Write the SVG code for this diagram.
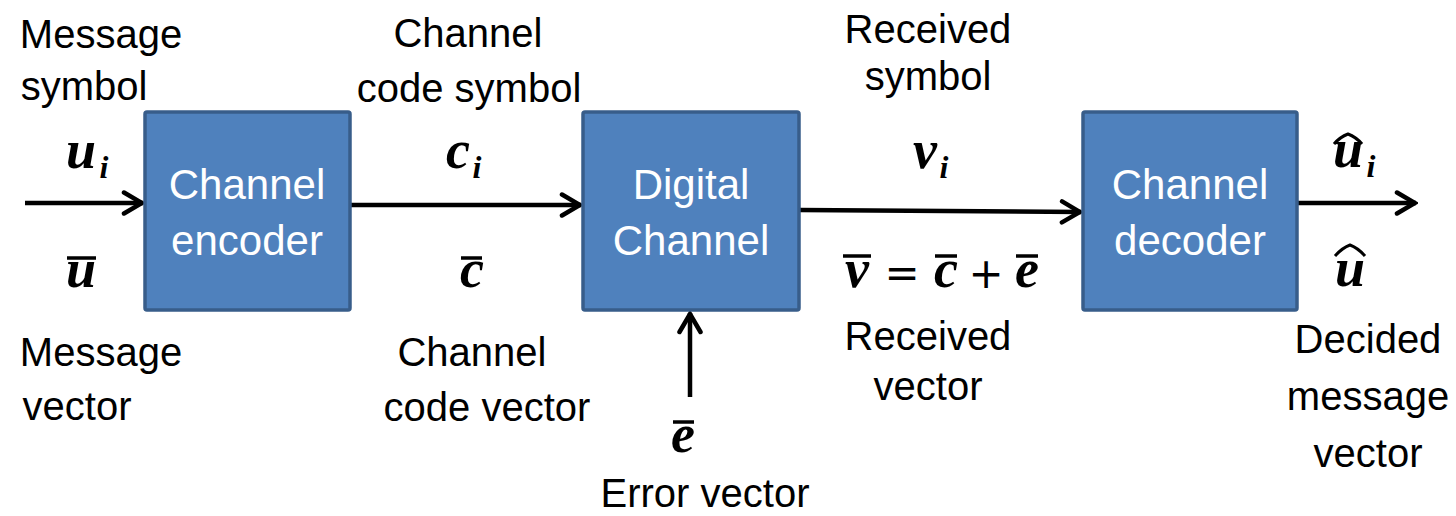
<svg xmlns="http://www.w3.org/2000/svg" width="1456" height="516" viewBox="0 0 1456 516">
<style>
.box{fill:#4F81BD;stroke:#385D8A;stroke-width:3.5}
.bt{font-family:"Liberation Sans",Arial,sans-serif;font-size:42px;fill:#fff;text-anchor:middle}
.lb{font-family:"Liberation Sans",Arial,sans-serif;font-size:40px;fill:#000;text-anchor:middle}
.m{font-family:"Liberation Serif","Times New Roman",serif;font-size:54px;font-weight:bold;font-style:italic;fill:#000;text-anchor:middle}
.s{font-family:"Liberation Serif","Times New Roman",serif;font-size:32px;font-weight:bold;font-style:italic;fill:#000;text-anchor:middle}
.op{font-family:"DejaVu Sans",sans-serif;font-size:42px;fill:#000;text-anchor:middle}
.bar{stroke:#000;stroke-width:3.5;fill:none}
.hat{stroke:#000;stroke-width:3;fill:none;stroke-linejoin:round}
.cn{stroke:#000;stroke-width:4.5;fill:none;marker-end:url(#ah)}
</style>
<defs>
<marker id="ah" markerUnits="userSpaceOnUse" viewBox="0 0 24 26" refX="22" refY="13" markerWidth="24" markerHeight="26" orient="auto">
<path d="M3,2.5 L21,13 L3,23.5" fill="none" stroke="#000" stroke-width="4.5" stroke-linecap="round" stroke-linejoin="miter"/>
</marker>
</defs>
<rect width="1456" height="516" fill="#fff"/>
<g id="connectors">
<line class="cn" x1="25" y1="203" x2="143" y2="203"/>
<line class="cn" x1="351" y1="205" x2="581" y2="205"/>
<line class="cn" x1="800" y1="210" x2="1081" y2="212"/>
<line class="cn" x1="1298" y1="203" x2="1416" y2="203"/>
<line class="cn" x1="690" y1="397" x2="690" y2="313"/>
</g>
<g id="encoder">
<rect class="box" x="145" y="112" width="205" height="198" rx="2"/>
<text class="bt" x="247" y="199">Channel</text>
<text class="bt" x="247" y="255">encoder</text>
</g>
<g id="channel">
<rect class="box" x="583" y="112" width="216" height="198" rx="2"/>
<text class="bt" x="691" y="199">Digital</text>
<text class="bt" x="691" y="255">Channel</text>
</g>
<g id="decoder">
<rect class="box" x="1083" y="112" width="214" height="198" rx="2"/>
<text class="bt" x="1190" y="199">Channel</text>
<text class="bt" x="1190" y="255">decoder</text>
</g>
<g id="labels">
<text class="lb" x="101" y="48">Message</text>
<text class="lb" x="84" y="100">symbol</text>
<text class="lb" x="468" y="47">Channel</text>
<text class="lb" x="469" y="102">code symbol</text>
<text class="lb" x="928" y="43">Received</text>
<text class="lb" x="928" y="90">symbol</text>
<text class="lb" x="101" y="366">Message</text>
<text class="lb" x="77" y="420">vector</text>
<text class="lb" x="472" y="366">Channel</text>
<text class="lb" x="487" y="421">code vector</text>
<text class="lb" x="928" y="350">Received</text>
<text class="lb" x="928" y="400">vector</text>
<text class="lb" x="705" y="507">Error vector</text>
<text class="lb" x="1368" y="353">Decided</text>
<text class="lb" x="1368" y="410">message</text>
<text class="lb" x="1368" y="467">vector</text>
</g>
<g id="math">
<text class="m" x="81" y="168">u</text><text class="s" x="104" y="178">i</text>
<text class="m" x="81" y="287">u</text><line class="bar" x1="67" y1="258" x2="96" y2="258"/>
<text class="m" x="458" y="168">c</text><text class="s" x="477" y="178">i</text>
<text class="m" x="472" y="287">c</text><line class="bar" x1="461" y1="258" x2="482" y2="258"/>
<text class="m" x="925" y="168">v</text><text class="s" x="944" y="178">i</text>
<text class="m" x="857" y="287">v</text><line class="bar" x1="843" y1="256" x2="871" y2="256"/>
<text class="op" x="902" y="287">=</text>
<text class="m" x="946" y="287">c</text><line class="bar" x1="935" y1="256" x2="957" y2="256"/>
<text class="op" x="986" y="288">+</text>
<text class="m" x="1027" y="287">e</text><line class="bar" x1="1016" y1="256" x2="1038" y2="256"/>
<text class="m" x="1348" y="167">u</text><text class="s" x="1371" y="177">i</text>
<path class="hat" d="M1334,144 Q1340,137 1348,134 Q1356,137 1362,144"/>
<text class="m" x="1350" y="286">u</text>
<path class="hat" d="M1335,256 Q1342,248 1350,245 Q1358,248 1365,256"/>
<text class="m" x="683" y="452">e</text><line class="bar" x1="673" y1="422" x2="694" y2="422"/>
</g>
</svg>
